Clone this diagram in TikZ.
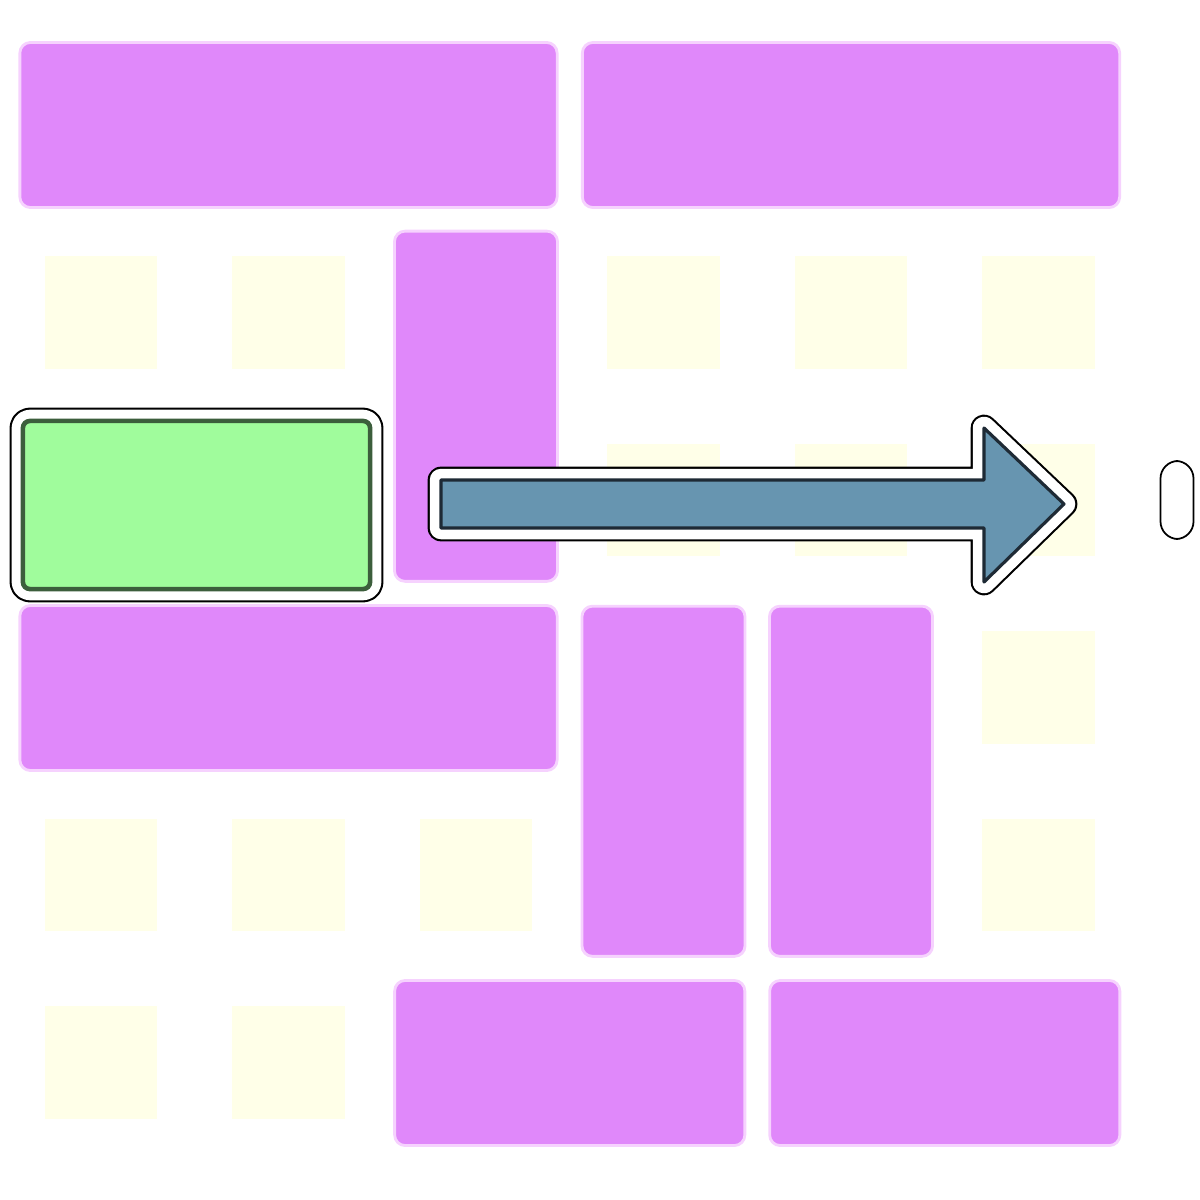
\documentclass[tikz,border=0pt]{standalone}
\usepackage{tikz}
\usetikzlibrary{positioning}
\usepackage{xcolor}
\definecolor{carpurple}{HTML}{E088FA}
\definecolor{carhalo}{HTML}{F6D2FE}
\definecolor{cellyellow}{HTML}{FFFFE8}
\definecolor{goalgreen}{HTML}{A0FC9C}
\definecolor{goalborder}{HTML}{3C5E3C}
\definecolor{arrowblue}{HTML}{6795B0}
\definecolor{arrowline}{HTML}{1E2A35}
\tikzset{
    cell/.style={rectangle, fill=cellyellow, minimum size=1.12cm, inner sep=0pt},
    car/.style={rectangle, fill=carpurple, draw=carhalo, line width=0.8pt, rounded corners=3pt, inner sep=0pt},
    hcar/.style={car, minimum height=1.65cm},
    vcar/.style={car, minimum width=1.63cm},
    halo/.style={preaction={draw=black, line width=7.6pt, line join=round}, preaction={draw=white, line width=6.4pt, line join=round}},
    goal/.style={rectangle, fill=goalgreen, draw=goalborder, line width=1.3pt, rounded corners=2pt, minimum width=3.47cm, minimum height=1.68cm, inner sep=0pt, halo},
    bigarrow/.style={fill=arrowblue, draw=arrowline, line width=0.9pt, line join=round, halo},
    exitbox/.style={rectangle, fill=white, draw=black, line width=0.5pt, rounded corners=5pt, minimum width=0.33cm, minimum height=0.78cm, inner sep=0pt}
}
\begin{document}
\begin{tikzpicture}[x=0.01cm, y=-0.01cm]
        \useasboundingbox (0,0) rectangle (1200,1200);

        % Empty cells
        \foreach \c/\r in {0/1,1/1,3/1,4/1,5/1,3/2,4/2,5/2,5/3,0/4,1/4,2/4,5/4,0/5,1/5}
            \node[cell] (cell-\c-\r) at ({101+187.5*\c},{125+187.5*\r}) {};

        % Blocking cars
        \node[hcar, minimum width=5.37cm] (carA) at (288.5,125) {};
        \node[hcar, minimum width=5.37cm] (carB) at (851,125) {};
        \node[vcar, minimum height=3.5cm] (carC) at (476,406.25) {};
        \node[hcar, minimum width=5.37cm] (carD) at (288.5,688) {};
        \node[vcar, minimum height=3.5cm] (carE) at (663.5,781.25) {};
        \node[vcar, minimum height=3.5cm] (carF) at (851,781.25) {};
        \node[hcar, minimum width=3.5cm] (carG) at (569.75,1063) {};
        \node[hcar, minimum width=3.5cm] (carH) at (944.75,1063) {};

        % Goal car
        \node[goal] (goal) at (196.5,505) {};

        % Exit
        \node[exitbox] (exit) at (1177,500) {};

        % Move arrow
        \coordinate (tail) at (441,504);
        \coordinate (tip) at (1064,504);
        \draw[bigarrow] (tail) ++(0,-24) -- ++(543,0) -- ++(0,-52) -- (tip)
            -- ++(-80,78) -- ++(0,-54) -- ++(-543,0) -- cycle;
    \end{tikzpicture}
\end{document}
